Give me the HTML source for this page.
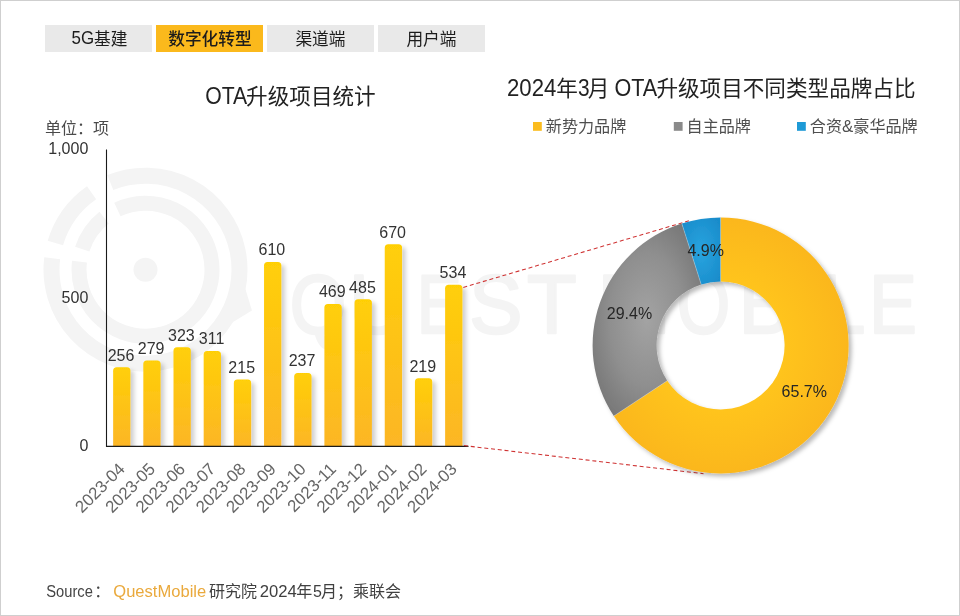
<!DOCTYPE html>
<html lang="zh-CN">
<head>
<meta charset="utf-8">
<title>OTA升级项目统计</title>
<style>
html,body{margin:0;padding:0;background:#fff;}
body{width:960px;height:616px;overflow:hidden;position:relative;font-family:"Liberation Sans","Noto Sans CJK SC",sans-serif;}
svg{position:absolute;left:0;top:0;display:block;will-change:transform;}
svg text{font-family:"Liberation Sans","Noto Sans CJK SC",sans-serif;}
#frame{position:absolute;left:0;top:0;width:958px;height:614px;border:1px solid #cfcfcf;}
</style>
</head>
<body>
<svg width="960" height="616" viewBox="0 0 960 616">
<defs>
<linearGradient id="bg" x1="0" y1="0" x2="0" y2="1">
<stop offset="0" stop-color="#ffcf06"/><stop offset="1" stop-color="#fcb626"/></linearGradient>
<radialGradient id="gg" cx="0.5" cy="0.5" r="0.62">
<stop offset="0" stop-color="#a3a3a3"/><stop offset="0.55" stop-color="#8f8f8f"/><stop offset="1" stop-color="#747474"/></radialGradient>
<radialGradient id="bl" cx="0.5" cy="0.5" r="0.62">
<stop offset="0" stop-color="#29a4df"/><stop offset="1" stop-color="#198ccb"/></radialGradient>
<radialGradient id="yl" cx="720.6" cy="345.4" r="128" gradientUnits="userSpaceOnUse">
<stop offset="0.5" stop-color="#ffc41b"/><stop offset="1" stop-color="#fbb71d"/></radialGradient>
<clipPath id="bc"><rect x="100" y="200" width="400" height="246"/></clipPath>
<filter id="bs" x="-5%" y="-5%" width="110%" height="110%"><feDropShadow dx="3.6" dy="3" stdDeviation="2" flood-color="#000" flood-opacity=".19"/></filter>
<filter id="ds" x="-10%" y="-10%" width="120%" height="120%"><feDropShadow dx="3" dy="3" stdDeviation="2.1" flood-color="#000" flood-opacity=".27"/></filter>
</defs>
<g id="wm"><circle cx="145.5" cy="269.7" r="12" fill="#f4f4f4"/><path d="M110.29 182.54A94 94 0 1 1 52.2 258.24M55.37 243A94 94 0 0 1 91.58 192.7" fill="none" stroke="#f4f4f4" stroke-width="16"/><path d="M117.4 209.43A66.5 66.5 0 1 1 79.5 261.6M82.25 249.15A66.5 66.5 0 0 1 104.1 217.66" fill="none" stroke="#f4f4f4" stroke-width="15"/><path d="M244.27 285.34L251.93 310.55L229.37 324.16Z" fill="#f4f4f4"/><g fill="#f4f4f4" stroke="#f4f4f4" stroke-width="2.4" stroke-linejoin="round"><text transform="translate(289.76,333.2) scale(0.8671,1)" font-size="83.8">Q</text><text transform="translate(349,333.2) scale(0.9582,1)" font-size="83.8">U</text><text transform="translate(416.66,333.2) scale(0.8058,1)" font-size="83.8">E</text><text transform="translate(469.28,333.2) scale(0.9514,1)" font-size="83.8">S</text><text transform="translate(526.88,333.2) scale(0.9687,1)" font-size="83.8">T</text><text transform="translate(596.89,333.2) scale(1.0632,1)" font-size="83.8">M</text><text transform="translate(676.97,333.2) scale(0.8146,1)" font-size="83.8">O</text><text transform="translate(738.79,333.2) scale(0.9327,1)" font-size="83.8">B</text><text transform="translate(794.18,333.2) scale(0.9724,1)" font-size="83.8">I</text><text transform="translate(820.58,333.2) scale(0.9635,1)" font-size="83.8">L</text><text transform="translate(869.36,333.2) scale(0.8499,1)" font-size="83.8">E</text></g></g>
<rect x="45" y="25" width="107" height="27" fill="#e9e9e9"/>
<text y="44.8" font-size="16.7" fill="#1c1c1c" font-weight="normal" xml:space="preserve"><tspan x="71.5" y="44" font-size="17.7" textLength="22.6" lengthAdjust="spacingAndGlyphs">5G</tspan><tspan x="94.1" y="44.8">基建</tspan></text>
<rect x="156" y="25" width="107" height="27" fill="#fbb91c"/>
<text y="44.8" font-size="16.7" fill="#1c1c1c" font-weight="500" xml:space="preserve"><tspan x="168.25">数字化转型</tspan></text>
<rect x="267" y="25" width="107" height="27" fill="#e9e9e9"/>
<text y="44.8" font-size="16.7" fill="#1c1c1c" font-weight="normal" xml:space="preserve"><tspan x="295.45">渠道端</tspan></text>
<rect x="378" y="25" width="107" height="27" fill="#e9e9e9"/>
<text y="44.8" font-size="16.7" fill="#1c1c1c" font-weight="normal" xml:space="preserve"><tspan x="406.45">用户端</tspan></text>
<text y="103.6" font-size="21.6" fill="#222" font-weight="normal" xml:space="preserve"><tspan x="205.2" font-size="23.11" textLength="42" lengthAdjust="spacingAndGlyphs">OTA</tspan><tspan x="246.1">升级项目统计</tspan></text>
<text y="133.6" font-size="16" fill="#4a4a4a" font-weight="normal" xml:space="preserve"><tspan x="45">单位：项</tspan></text>
<text x="88.3" y="153.75" font-size="16" fill="#333" text-anchor="end">1,000</text>
<text x="88.3" y="303" font-size="16" fill="#333" text-anchor="end">500</text>
<text x="88.3" y="450.6" font-size="16" fill="#333" text-anchor="end">0</text>
<g clip-path="url(#bc)"><g fill="url(#bg)" filter="url(#bs)"><path d="M113.14 446V370.74Q113.14 367.24 116.64 367.24H126.94Q130.44 367.24 130.44 370.74V446Z"/><path d="M143.32 446V363.91Q143.32 360.41 146.82 360.41H157.12Q160.62 360.41 160.62 363.91V446Z"/><path d="M173.5 446V350.84Q173.5 347.34 177 347.34H187.3Q190.8 347.34 190.8 350.84V446Z"/><path d="M203.68 446V354.4Q203.68 350.9 207.18 350.9H217.48Q220.98 350.9 220.98 354.4V446Z"/><path d="M233.86 446V382.92Q233.86 379.42 237.36 379.42H247.66Q251.16 379.42 251.16 382.92V446Z"/><path d="M264.04 446V265.57Q264.04 262.07 267.54 262.07H277.84Q281.34 262.07 281.34 265.57V446Z"/><path d="M294.22 446V376.39Q294.22 372.89 297.72 372.89H308.02Q311.52 372.89 311.52 376.39V446Z"/><path d="M324.4 446V307.46Q324.4 303.96 327.9 303.96H338.2Q341.7 303.96 341.7 307.46V446Z"/><path d="M354.58 446V302.71Q354.58 299.21 358.08 299.21H368.38Q371.88 299.21 371.88 302.71V446Z"/><path d="M384.76 446V247.74Q384.76 244.24 388.26 244.24H398.56Q402.06 244.24 402.06 247.74V446Z"/><path d="M414.94 446V381.74Q414.94 378.24 418.44 378.24H428.74Q432.24 378.24 432.24 381.74V446Z"/><path d="M445.12 446V288.15Q445.12 284.65 448.62 284.65H458.92Q462.42 284.65 462.42 288.15V446Z"/></g></g>
<path d="M106.5 149.5V446.4H468.5" fill="none" stroke="#1a1a1a" stroke-width="1.1"/>
<text x="120.99" y="360.64" font-size="16" fill="#333" text-anchor="middle">256</text>
<text x="151.17" y="353.81" font-size="16" fill="#333" text-anchor="middle">279</text>
<text x="181.35" y="340.74" font-size="16" fill="#333" text-anchor="middle">323</text>
<text x="211.53" y="344.3" font-size="16" fill="#333" text-anchor="middle">311</text>
<text x="241.71" y="372.82" font-size="16" fill="#333" text-anchor="middle">215</text>
<text x="271.89" y="255.47" font-size="16" fill="#333" text-anchor="middle">610</text>
<text x="302.07" y="366.29" font-size="16" fill="#333" text-anchor="middle">237</text>
<text x="332.25" y="297.36" font-size="16" fill="#333" text-anchor="middle">469</text>
<text x="362.43" y="292.61" font-size="16" fill="#333" text-anchor="middle">485</text>
<text x="392.61" y="237.64" font-size="16" fill="#333" text-anchor="middle">670</text>
<text x="422.79" y="371.64" font-size="16" fill="#333" text-anchor="middle">219</text>
<text x="452.97" y="278.05" font-size="16" fill="#333" text-anchor="middle">534</text>
<text transform="translate(125.89,470) rotate(-45)" font-size="16.9" fill="#666" text-anchor="end">2023-04</text>
<text transform="translate(156.07,470) rotate(-45)" font-size="16.9" fill="#666" text-anchor="end">2023-05</text>
<text transform="translate(186.25,470) rotate(-45)" font-size="16.9" fill="#666" text-anchor="end">2023-06</text>
<text transform="translate(216.43,470) rotate(-45)" font-size="16.9" fill="#666" text-anchor="end">2023-07</text>
<text transform="translate(246.61,470) rotate(-45)" font-size="16.9" fill="#666" text-anchor="end">2023-08</text>
<text transform="translate(276.79,470) rotate(-45)" font-size="16.9" fill="#666" text-anchor="end">2023-09</text>
<text transform="translate(306.97,470) rotate(-45)" font-size="16.9" fill="#666" text-anchor="end">2023-10</text>
<text transform="translate(337.15,470) rotate(-45)" font-size="16.9" fill="#666" text-anchor="end">2023-11</text>
<text transform="translate(367.33,470) rotate(-45)" font-size="16.9" fill="#666" text-anchor="end">2023-12</text>
<text transform="translate(397.51,470) rotate(-45)" font-size="16.9" fill="#666" text-anchor="end">2024-01</text>
<text transform="translate(427.69,470) rotate(-45)" font-size="16.9" fill="#666" text-anchor="end">2024-02</text>
<text transform="translate(457.87,470) rotate(-45)" font-size="16.9" fill="#666" text-anchor="end">2024-03</text>
<path d="M463.3 287.4L689 220.8M464 445.6L703.5 473.7" stroke="#cf3232" stroke-width="1.05" stroke-dasharray="4 2.8" fill="none"/>
<text y="96.3" font-size="21.6" fill="#222" font-weight="normal" xml:space="preserve"><tspan x="507" font-size="23.11" textLength="49.3" lengthAdjust="spacingAndGlyphs">2024</tspan><tspan x="556.2">年</tspan><tspan x="578" font-size="23.11" textLength="11.6" lengthAdjust="spacingAndGlyphs">3</tspan><tspan x="587.8">月</tspan><tspan x="608.4" font-size="23.11" textLength="48.8" lengthAdjust="spacingAndGlyphs"> OTA</tspan><tspan x="656.4">升级项目不同类型品牌占比</tspan></text>
<rect x="533" y="122" width="8.8" height="8.8" fill="#fbbc1f"/>
<text y="132" font-size="16.1" fill="#4f4f4f" font-weight="normal" xml:space="preserve"><tspan x="545.8">新势力品牌</tspan></text>
<rect x="673.8" y="122" width="8.8" height="8.8" fill="#8a8a8a"/>
<text y="132" font-size="16.1" fill="#4f4f4f" font-weight="normal" xml:space="preserve"><tspan x="686.6">自主品牌</tspan></text>
<rect x="797" y="122" width="8.8" height="8.8" fill="#1e9ad6"/>
<text y="132" font-size="16.1" fill="#4f4f4f" font-weight="normal" xml:space="preserve"><tspan x="809.8">合资</tspan><tspan x="842" textLength="11.3" lengthAdjust="spacingAndGlyphs">&amp;</tspan><tspan x="853.3">豪华品牌</tspan></text>
<g filter="url(#ds)"><path d="M720.6 217.4A128 128 0 1 1 613.84 416.01L667.22 380.71A64 64 0 1 0 720.6 281.4Z" fill="url(#yl)"/><path d="M613.84 416.01A128 128 0 0 1 681.81 223.42L701.21 284.41A64 64 0 0 0 667.22 380.71Z" fill="url(#gg)"/><path d="M681.81 223.42A128 128 0 0 1 720.6 217.4L720.6 281.4A64 64 0 0 0 701.21 284.41Z" fill="url(#bl)"/></g>
<path d="M720.6 281.4L720.6 217.4M667.22 380.71L613.84 416.01M701.21 284.41L681.81 223.42" stroke="#fff" stroke-opacity=".35" stroke-width="0.8" fill="none"/>
<text x="804.3" y="396.5" font-size="16" fill="#262626" text-anchor="middle">65.7%</text>
<text x="629.5" y="318.7" font-size="16" fill="#262626" text-anchor="middle">29.4%</text>
<text x="705.7" y="255.8" font-size="16" fill="#262626" text-anchor="middle">4.9%</text>
<text y="597" font-size="16" fill="#454545" font-weight="normal" xml:space="preserve"><tspan x="46.3" font-size="16.64" textLength="46.6" lengthAdjust="spacingAndGlyphs">Source</tspan><tspan x="94.2">：</tspan></text>
<text y="597" font-size="16" fill="#eaa93c" font-weight="normal" xml:space="preserve"><tspan x="113.3" font-size="16.64" textLength="92.9" lengthAdjust="spacingAndGlyphs">QuestMobile</tspan></text>
<text y="597" font-size="16" fill="#404040" font-weight="normal" xml:space="preserve"><tspan x="208.9">研究院</tspan><tspan x="255.2" font-size="16.64" textLength="41.7" lengthAdjust="spacingAndGlyphs"> 2024</tspan><tspan x="296.2">年</tspan><tspan x="313.1" font-size="16.64" textLength="8.9" lengthAdjust="spacingAndGlyphs">5</tspan><tspan x="321">月；乘联会</tspan></text>
</svg>
<div id="frame"></div>
</body>
</html>
